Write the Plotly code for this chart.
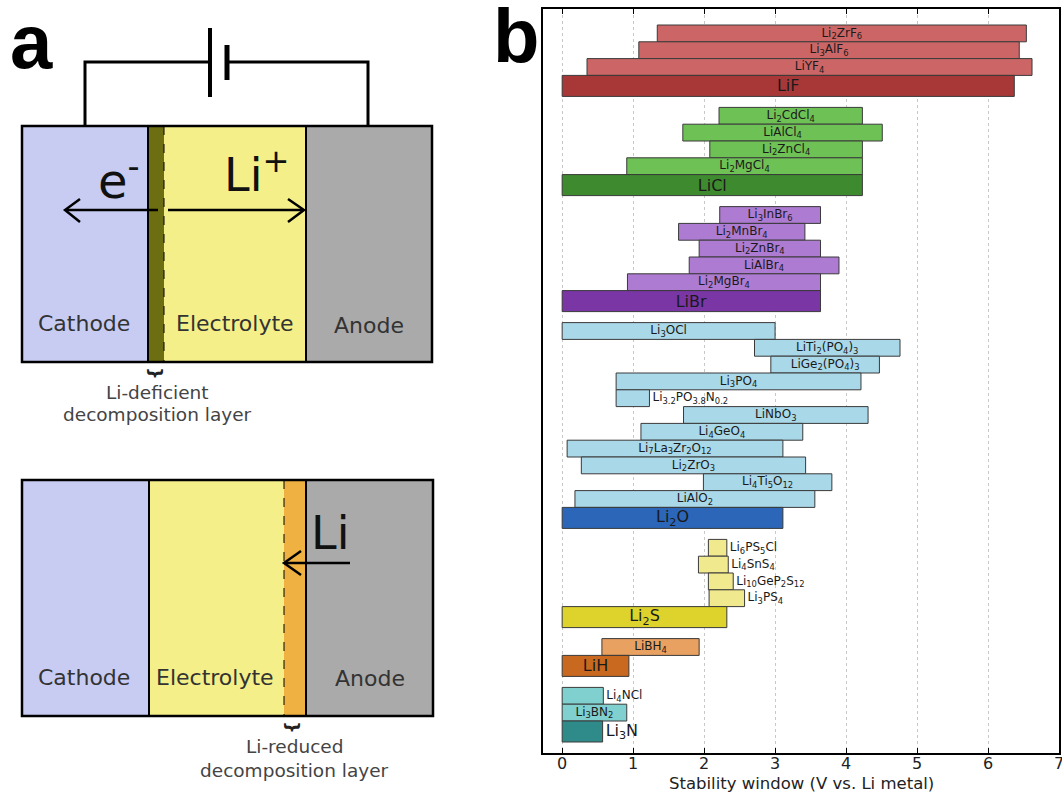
import plotly.graph_objects as go

W, H = 1062, 792

# ---------------- DATA (panel b) ----------------
FLUORIDES = ["Li<sub>2</sub>ZrF<sub>6</sub>", "Li<sub>3</sub>AlF<sub>6</sub>", "LiYF<sub>4</sub>", "LiF"]
FLUORIDE_LOW = [1.34, 1.08, 0.35, 0.0]
FLUORIDE_HIGH = [6.54, 6.44, 6.62, 6.37]

CHLORIDES = ["Li<sub>2</sub>CdCl<sub>4</sub>", "LiAlCl<sub>4</sub>", "Li<sub>2</sub>ZnCl<sub>4</sub>",
             "Li<sub>2</sub>MgCl<sub>4</sub>", "LiCl"]
CHLORIDE_LOW = [2.21, 1.70, 2.08, 0.91, 0.0]
CHLORIDE_HIGH = [4.23, 4.51, 4.23, 4.23, 4.23]

BROMIDES = ["Li<sub>3</sub>InBr<sub>6</sub>", "Li<sub>2</sub>MnBr<sub>4</sub>", "Li<sub>2</sub>ZnBr<sub>4</sub>",
            "LiAlBr<sub>4</sub>", "Li<sub>2</sub>MgBr<sub>4</sub>", "LiBr"]
BROMIDE_LOW = [2.22, 1.64, 1.93, 1.79, 0.92, 0.0]
BROMIDE_HIGH = [3.64, 3.42, 3.64, 3.90, 3.64, 3.64]

OXIDES = ["Li<sub>3</sub>OCl", "LiTi<sub>2</sub>(PO<sub>4</sub>)<sub>3</sub>", "LiGe<sub>2</sub>(PO<sub>4</sub>)<sub>3</sub>",
          "Li<sub>3</sub>PO<sub>4</sub>", "Li<sub>3.2</sub>PO<sub>3.8</sub>N<sub>0.2</sub>", "LiNbO<sub>3</sub>",
          "Li<sub>4</sub>GeO<sub>4</sub>", "Li<sub>7</sub>La<sub>3</sub>Zr<sub>2</sub>O<sub>12</sub>",
          "Li<sub>2</sub>ZrO<sub>3</sub>", "Li<sub>4</sub>Ti<sub>5</sub>O<sub>12</sub>", "LiAlO<sub>2</sub>",
          "Li<sub>2</sub>O"]
OXIDE_LOW = [0.0, 2.71, 2.94, 0.76, 0.76, 1.71, 1.11, 0.07, 0.27, 1.99, 0.18, 0.0]
OXIDE_HIGH = [3.00, 4.76, 4.47, 4.21, 1.23, 4.31, 3.39, 3.11, 3.43, 3.80, 3.56, 3.11]

SULFIDES = ["Li<sub>6</sub>PS<sub>5</sub>Cl", "Li<sub>4</sub>SnS<sub>4</sub>", "Li<sub>10</sub>GeP<sub>2</sub>S<sub>12</sub>",
            "Li<sub>3</sub>PS<sub>4</sub>", "Li<sub>2</sub>S"]
SULFIDE_LOW = [2.06, 1.92, 2.06, 2.07, 0.0]
SULFIDE_HIGH = [2.32, 2.34, 2.41, 2.57, 2.32]

HYDRIDES = ["LiBH<sub>4</sub>", "LiH"]
HYDRIDE_LOW = [0.56, 0.0]
HYDRIDE_HIGH = [1.93, 0.94]

NITRIDES = ["Li<sub>4</sub>NCl", "Li<sub>3</sub>BN<sub>2</sub>", "Li<sub>3</sub>N"]
NITRIDE_LOW = [0.0, 0.0, 0.0]
NITRIDE_HIGH = [0.58, 0.91, 0.57]

X_TICKS = [0, 1, 2, 3, 4, 5, 6, 7]
X_TITLE = "Stability window (V vs. Li metal)"

# ---------------- STYLE ----------------
GROUPS = [
    (FLUORIDES, FLUORIDE_LOW, FLUORIDE_HIGH, "#cc6666", "#a83838"),
    (CHLORIDES, CHLORIDE_LOW, CHLORIDE_HIGH, "#6ec155", "#3e8a2e"),
    (BROMIDES, BROMIDE_LOW, BROMIDE_HIGH, "#ad7bd1", "#7b36a6"),
    (OXIDES, OXIDE_LOW, OXIDE_HIGH, "#a9d8e8", "#2b66b9"),
    (SULFIDES, SULFIDE_LOW, SULFIDE_HIGH, "#f1e98e", "#ddd32c"),
    (HYDRIDES, HYDRIDE_LOW, HYDRIDE_HIGH, "#e9a162", "#c8691f"),
    (NITRIDES, NITRIDE_LOW, NITRIDE_HIGH, "#7fd0ce", "#2f8b8a"),
]
SMALL_H, BIG_H, GAP, TOP_PAD = 16.8, 21.0, 11.0, 16.0
NARROW = 0.7  # labels of bars narrower than this go outside

ys, hs, bases, lens, cols, texts, tpos, tsize = [], [], [], [], [], [], [], []
cursor = TOP_PAD
for names, lo, hi, c_t, c_b in GROUPS:
    n = len(names)
    for i in range(n):
        binary = (i == n - 1)
        h = BIG_H if binary else SMALL_H
        ys.append(cursor + h / 2)
        hs.append(h)
        cursor += h
        bases.append(lo[i])
        lens.append(hi[i] - lo[i])
        cols.append(c_b if binary else c_t)
        texts.append(names[i])
        narrow = (hi[i] - lo[i]) < NARROW
        tpos.append("outside" if narrow else "inside")
        tsize.append(16 if binary else 12)
    cursor += GAP

fig = go.Figure()
fig.add_trace(go.Bar(
    orientation="h", y=ys, x=lens, base=bases, width=hs,
    marker=dict(color=cols, line=dict(color="#3a3a3a", width=1)),
    text=texts, textposition=tpos, insidetextanchor="middle",
    textfont=dict(size=tsize, color="#1a1a1a", family="DejaVu Sans"),
    constraintext="none", cliponaxis=False, hoverinfo="skip", textangle=0,
))

x0p, x1p, y0p, y1p = 543, 1059, 9, 753
fig.update_layout(
    width=W, height=H, margin=dict(l=0, r=0, t=0, b=0, autoexpand=False),
    paper_bgcolor="white", plot_bgcolor="white", showlegend=False,
    font=dict(family="DejaVu Sans", color="#222"),
    xaxis=dict(domain=[x0p / W, x1p / W], range=[-0.27, 7.0], tickvals=X_TICKS,
               ticks="inside", ticklen=5, tickcolor="black", tickwidth=1.2,
               showline=True, linecolor="black", linewidth=2, mirror="ticks",
               showgrid=True, gridcolor="#c8c8c8", griddash="dot", gridwidth=1,
               zeroline=False, tickfont=dict(size=16, color="#222"), automargin=False,
               ticklabeloverflow="allow", ticklabelstandoff=-5),
    yaxis=dict(domain=[1 - y1p / H, 1 - y0p / H], range=[744, 0], automargin=False,
               showticklabels=False, ticks="", showgrid=False, zeroline=False,
               showline=True, linecolor="black", linewidth=2, mirror=True),
)

ann = []
ann.append(dict(text=X_TITLE, x=(x0p + x1p) / 2 / W, y=1 - 783 / H, xref="paper", yref="paper",
                showarrow=False, font=dict(size=16.5, color="#222"), xanchor="center", yanchor="middle"))

# ---------------- Panel a (schematic) ----------------
def px(x): return x / W
def py(y): return 1 - y / H

shapes = []
def rect(x0, y0, x1, y1, fill, lw=0, lc="black"):
    shapes.append(dict(type="rect", xref="paper", yref="paper", x0=px(x0), x1=px(x1), y0=py(y0), y1=py(y1),
                       fillcolor=fill, line=dict(width=lw, color=lc), layer="above"))
def line(x0, y0, x1, y1, w=2, dash="solid", color="black"):
    shapes.append(dict(type="line", xref="paper", yref="paper", x0=px(x0), x1=px(x1), y0=py(y0), y1=py(y1),
                       line=dict(width=w, color=color, dash=dash), layer="above"))
def path(pts, w=2.5):
    d = "M " + " L ".join(f"{px(a):.5f},{py(b):.5f}" for a, b in pts)
    shapes.append(dict(type="path", xref="paper", yref="paper", path=d,
                       line=dict(width=w, color="black"), layer="above"))
def text(t, x, y, size, color="#333", bold=False, fam="DejaVu Sans", angle=0):
    ann.append(dict(text=f"<b>{t}</b>" if bold else t, x=px(x), y=py(y), xref="paper", yref="paper",
                    showarrow=False, font=dict(size=size, color=color, family=fam),
                    xanchor="center", yanchor="middle", textangle=angle))

LAV, YEL, GRY, OLV, ORG = "#c8ccf3", "#f4ef88", "#aaaaaa", "#6d6d12", "#efb242"

# top cell
rect(22, 126, 148, 362, LAV)
rect(148, 126, 164, 362, OLV)
rect(164, 126, 306, 362, YEL)
rect(306, 126, 432, 362, GRY)
rect(22, 126, 432, 362, "rgba(0,0,0,0)", lw=2.5)
line(148, 126, 148, 362, 2)
line(306, 126, 306, 362, 2)
line(164, 126, 164, 362, 1, dash="dash")
path([(85, 126), (85, 62), (210, 62)], 3)
path([(227, 62), (368, 62), (368, 126)], 3)
line(210, 28, 210, 97, 4)
line(227, 45, 227, 80, 5)
line(158, 210, 66, 210, 2.5)
path([(80, 199), (65, 210), (80, 222)], 2.5)
line(168, 210, 303, 210, 2.5)
path([(288, 199), (304, 210), (288, 222)], 2.5)
text("e<sup>-</sup>", 119, 178, 48, "#111")
text("Li<sup>+</sup>", 256, 172, 46, "#111")
text("Cathode", 84, 323, 22)
text("Electrolyte", 235, 323, 22)
text("Anode", 369, 325, 22)
text("}", 156, 373, 18, "#222", bold=True, angle=90)
text("Li-deficient", 157, 392, 18.5, "#444")
text("decomposition layer", 157, 414, 18.5, "#444")

# bottom cell
rect(22, 480, 149, 716, LAV)
rect(149, 480, 284, 716, YEL)
rect(284, 480, 306, 716, ORG)
rect(306, 480, 433, 716, GRY)
rect(22, 480, 433, 716, "rgba(0,0,0,0)", lw=2.5)
line(149, 480, 149, 716, 2)
line(306, 480, 306, 716, 2)
line(284, 480, 284, 716, 1, dash="dash")
line(350, 563, 285, 563, 2.5)
path([(301, 551), (284, 563), (301, 575)], 2.5)
text("Li", 330, 533, 46, "#111")
text("Cathode", 84, 677, 22)
text("Electrolyte", 215, 677, 22)
text("Anode", 370, 678, 22)
text("}", 293, 727, 18, "#222", bold=True, angle=90)
text("Li-reduced", 294, 746, 18.5, "#444")
text("decomposition layer", 294, 770, 18.5, "#444")

# panel letters
text("a", 31, 42, 76, "black", bold=True, fam="Liberation Sans")
text("b", 516, 35, 76, "black", bold=True, fam="Liberation Sans")

fig.update_layout(shapes=shapes, annotations=ann)
fig.write_html("out.html")
